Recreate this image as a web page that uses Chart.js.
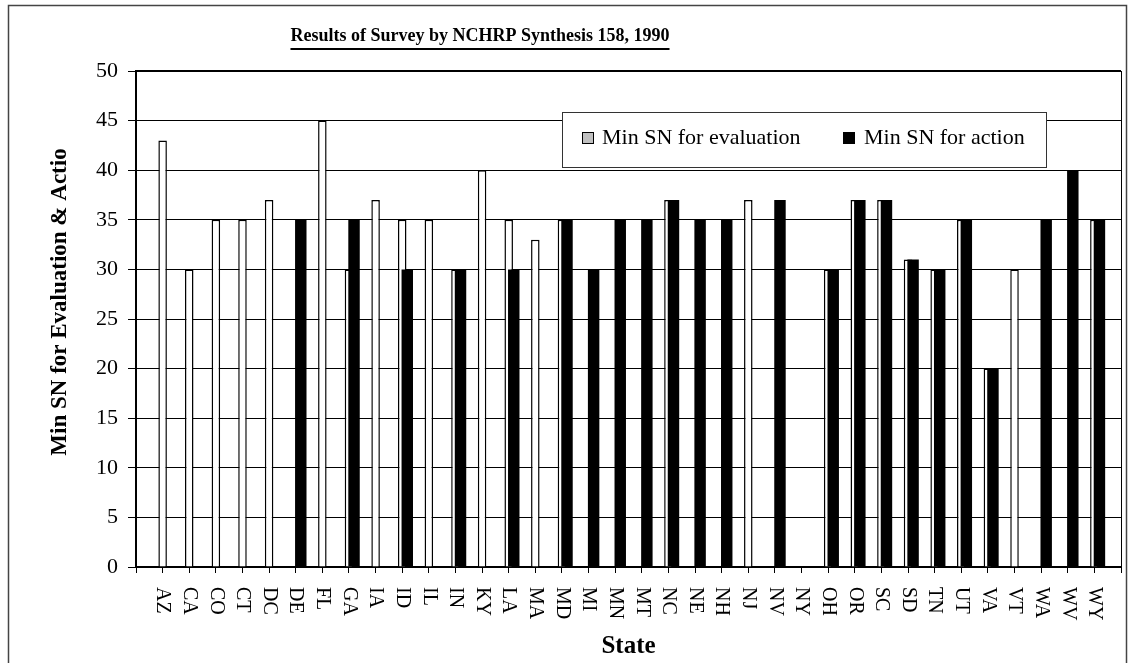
<!DOCTYPE html>
<html>
<head>
<meta charset="utf-8">
<title>NCHRP Synthesis 158 survey</title>
<script src="https://cdn.jsdelivr.net/npm/chart.js@4.4.1/dist/chart.umd.min.js"></script>
<style>
  html, body { margin: 0; padding: 0; background: #fff; }
  #wrap { width: 1130px; height: 663px; }
</style>
</head>
<body>
<div id="wrap"><canvas id="surveyChart" width="1130" height="663"></canvas></div>
<script>
// data
const states = ['AZ', 'CA', 'CO', 'CT', 'DC', 'DE', 'FL', 'GA', 'IA', 'ID', 'IL', 'IN',
    'KY', 'LA', 'MA', 'MD', 'MI', 'MN', 'MT', 'NC', 'NE', 'NH', 'NJ', 'NV',
    'NY', 'OH', 'OR', 'SC', 'SD', 'TN', 'UT', 'VA', 'VT', 'WA', 'WV', 'WY'];
const minSnEvaluation = [43, 30, 35, 35, 37, null, 45, 30, 37, 35, 35, 30,
    40, 35, 33, 35, null, null, null, 37, null, null, 37, null,
    null, 30, 37, 37, 31, 30, 35, 20, 30, null, null, 35];
const minSnAction = [null, null, null, null, null, 35, null, 35, null, 30, null, 30,
    null, 30, null, 35, 30, 35, 35, 37, 35, 35, null, 37,
    null, 30, 37, 37, 31, 30, 35, 20, null, 35, 40, 35];
const yTicks = [0, 5, 10, 15, 20, 25, 30, 35, 40, 45, 50];

const chartTitle = 'Results of Survey by NCHRP Synthesis 158, 1990';
const yTitle = 'Min SN for Evaluation & Actio';
const xTitle = 'State';
const legendSwatches = ['#c0c0c0', '#000000'];

const serif = "'Times New Roman', 'Liberation Serif', serif";

document.addEventListener('DOMContentLoaded', function() {
    Chart.defaults.color = '#000';
    Chart.defaults.font.family = serif;

    // empty slot at each end, like the Excel axis
    const axisLabels = [''].concat(states, ['']);
    const actionShift = 0.19; // black bars sit a little right of the white ones

    // Frame, titles, legend box and the rotated state labels
    const decorations = {
        id: 'decorations',
        afterDraw(chart) {
            const ctx = chart.ctx;
            const area = chart.chartArea;
            const xScale = chart.scales.x;

            ctx.save();
            // outer frame
            ctx.strokeStyle = '#444';
            ctx.lineWidth = 1.5;
            ctx.strokeRect(8.5, 5.5, 1118, 700);

            // plot box top + right
            ctx.strokeStyle = '#000';
            ctx.lineWidth = 2;
            ctx.beginPath();
            ctx.moveTo(area.left, area.top);
            ctx.lineTo(area.right, area.top);
            ctx.stroke();
            ctx.lineWidth = 1;
            ctx.beginPath();
            ctx.moveTo(area.right + 0.5, area.top);
            ctx.lineTo(area.right + 0.5, area.bottom);
            ctx.stroke();

            // underlined title
            ctx.fillStyle = '#000';
            ctx.font = 'bold 18px ' + serif;
            ctx.textAlign = 'center';
            ctx.textBaseline = 'alphabetic';
            ctx.fillText(chartTitle, 480, 41);
            const tw = ctx.measureText(chartTitle).width;
            ctx.fillRect(480 - tw / 2, 48, tw, 2);

            // y title
            ctx.save();
            ctx.translate(66, 302);
            ctx.rotate(-Math.PI / 2);
            ctx.font = 'bold 23px ' + serif;
            ctx.textAlign = 'center';
            ctx.fillText(yTitle, 0, 0);
            ctx.restore();

            // state labels, reading downwards
            ctx.font = '20px ' + serif;
            ctx.textAlign = 'left';
            ctx.textBaseline = 'middle';
            states.forEach((s, i) => {
                ctx.save();
                ctx.translate(xScale.getPixelForTick(i + 1), xScale.top + 20);
                ctx.rotate(Math.PI / 2);
                ctx.fillText(s, 0, 0);
                ctx.restore();
            });

            // legend
            ctx.fillStyle = '#fff';
            ctx.fillRect(562, 112, 484, 55);
            ctx.strokeStyle = '#333';
            ctx.lineWidth = 1;
            ctx.strokeRect(562.5, 112.5, 484, 55);
            const legendX = [[582, 602], [843, 864]];
            ctx.font = '22px ' + serif;
            ctx.textBaseline = 'alphabetic';
            chart.data.datasets.forEach((ds, i) => {
                ctx.fillStyle = legendSwatches[i];
                ctx.fillRect(legendX[i][0], 132, 12, 12);
                ctx.strokeStyle = '#000';
                ctx.strokeRect(legendX[i][0] + 0.5, 132.5, 11, 11);
                ctx.fillStyle = '#000';
                ctx.fillText(ds.label, legendX[i][1], 144);
            });
            ctx.restore();
        }
    };

    const ctx = document.getElementById('surveyChart').getContext('2d');
    const surveyChart = new Chart(ctx, {
        type: 'bar',
        data: {
            labels: axisLabels,
            datasets: [{
                label: 'Min SN for evaluation',
                data: states.map((s, i) => ({ x: s, y: minSnEvaluation[i] })),
                xAxisID: 'x',
                backgroundColor: '#ffffff',
                borderColor: '#000000',
                borderWidth: 1.5,
                grouped: false,
                categoryPercentage: 1,
                barPercentage: 0.32,
                order: 1
            }, {
                label: 'Min SN for action',
                data: states.map((s, i) => ({ x: i + 1, y: minSnAction[i] })),
                xAxisID: 'xb',
                backgroundColor: '#000000',
                borderColor: '#000000',
                borderWidth: 0,
                grouped: false,
                categoryPercentage: 1,
                barPercentage: 0.43,
                order: 0
            }]
        },
        options: {
            responsive: false,
            animation: false,
            layout: {
                padding: { top: 71, right: 9, left: 0, bottom: 0 }
            },
            plugins: {
                legend: { display: false },
                title: { display: false },
                tooltip: { enabled: false }
            },
            scales: {
                x: {
                    type: 'category',
                    offset: false,
                    grid: {
                        display: true,
                        offset: false,
                        drawOnChartArea: false,
                        drawTicks: true,
                        tickLength: 6,
                        color: '#000',
                        lineWidth: 1
                    },
                    border: { display: true, color: '#000', width: 2 },
                    ticks: { display: false, autoSkip: false },
                    title: {
                        display: true,
                        text: xTitle,
                        color: '#000',
                        font: { family: serif, size: 25, weight: 'bold' },
                        padding: { top: 0, bottom: 1 }
                    },
                    afterFit: function(scale) {
                        scale.height = 96;
                    }
                },
                xb: {
                    type: 'linear',
                    display: false,
                    offset: false,
                    min: -actionShift,
                    max: states.length + 1 - actionShift
                },
                y: {
                    min: 0,
                    max: 50,
                    afterBuildTicks: function(scale) {
                        scale.ticks = yTicks.map(v => ({ value: v }));
                    },
                    grid: {
                        color: '#000',
                        lineWidth: 1,
                        drawTicks: true,
                        tickLength: 8
                    },
                    border: { color: '#000', width: 2 },
                    ticks: {
                        color: '#000',
                        font: { family: serif, size: 22 },
                        padding: 10
                    },
                    afterFit: function(scale) {
                        scale.width = 136;
                    }
                }
            }
        },
        plugins: [decorations]
    });
});
</script>
</body>
</html>
